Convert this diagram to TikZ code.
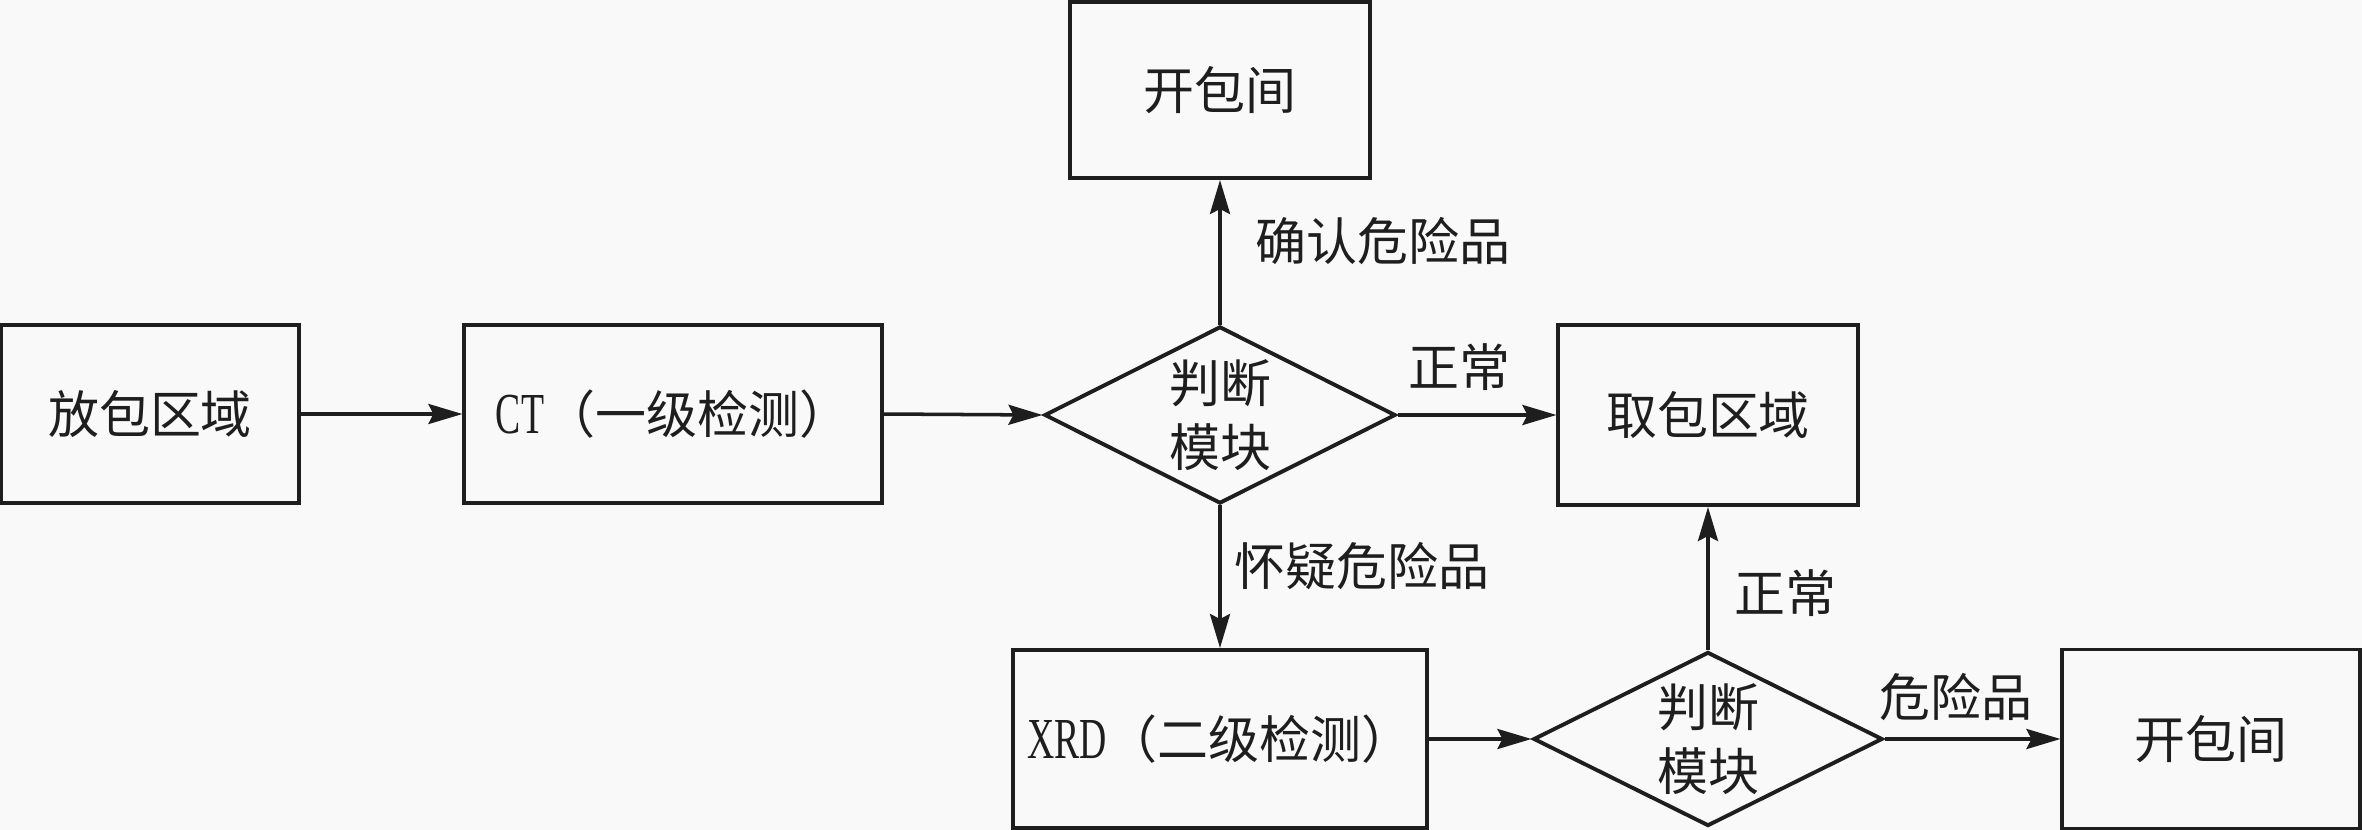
\documentclass[tikz,border=0pt]{standalone}
\usepackage{fontspec}
\newfontfamily\cjk{Noto Sans CJK SC}
\newfontfamily\lat{Liberation Serif}[FakeStretch=0.65]
\usetikzlibrary{shapes.geometric,arrows.meta}
\definecolor{bg}{RGB}{249,249,249}
\definecolor{ink}{RGB}{30,30,30}
\begin{document}
\begin{tikzpicture}[x=0.01cm,y=-0.01cm,
  txt/.style={text=ink, font=\cjk\fontsize{14.5pt}{18pt}\selectfont},
  box/.style={txt, draw=ink, line width=1.1pt, fill=bg, inner sep=0pt, align=center},
  dec/.style={txt, diamond, draw=ink, line width=1.1pt, fill=bg, inner sep=0pt, aspect=2,
    minimum width=3.51cm, minimum height=1.77cm, align=center},
  lbl/.style={txt, inner sep=0pt},
  arr/.style={draw=ink, line width=1pt, -{Stealth[length=0.34cm,width=0.2cm,inset=0.05cm]}}]
\newcommand\latin[1]{{\lat\fontsize{16.5pt}{18pt}\selectfont #1}}
\fill[bg] (0,0) rectangle (2362,830);
\useasboundingbox (0,0) rectangle (2362,830);
\node[box, minimum width=2.97cm, minimum height=1.78cm] (put) at (150,414) {放包区域};
\node[box, minimum width=4.17cm, minimum height=1.78cm] (ct) at (673,414) {\latin{CT}（一级检测）};
\node[dec] (j1) at (1220,415) {判断\\模块};
\node[box, minimum width=2.99cm, minimum height=1.76cm] (open1) at (1220,90) {开包间};
\node[box, minimum width=2.99cm, minimum height=1.80cm] (take) at (1708,415) {取包区域};
\node[box, minimum width=4.14cm, minimum height=1.78cm] (xrd) at (1220,739) {\latin{XRD}（二级检测）};
\node[dec, minimum width=3.49cm, minimum height=1.74cm] (j2) at (1708,739) {判断\\模块};
\node[box, minimum width=2.97cm, minimum height=1.79cm] (open2) at (2211,739) {开包间};
\draw[arr] (put.east) -- (ct.west);
\draw[arr] (ct.east) -- (j1.west);
\draw[arr] (j1.north) -- (open1.south);
\draw[arr] (j1.east) -- (take.west);
\draw[arr] (j1.south) -- (xrd.north);
\draw[arr] (xrd.east) -- (j2.west);
\draw[arr] (j2.north) -- (take.south);
\draw[arr] (j2.east) -- (open2.west);
\node[lbl] (l1) at (1383,241) {确认危险品};
\node[lbl] (l2) at (1459,367) {正常};
\node[lbl] (l3) at (1362,566) {怀疑危险品};
\node[lbl] (l4) at (1785,593) {正常};
\node[lbl] (l5) at (1956,697) {危险品};
\end{tikzpicture}
\end{document}
